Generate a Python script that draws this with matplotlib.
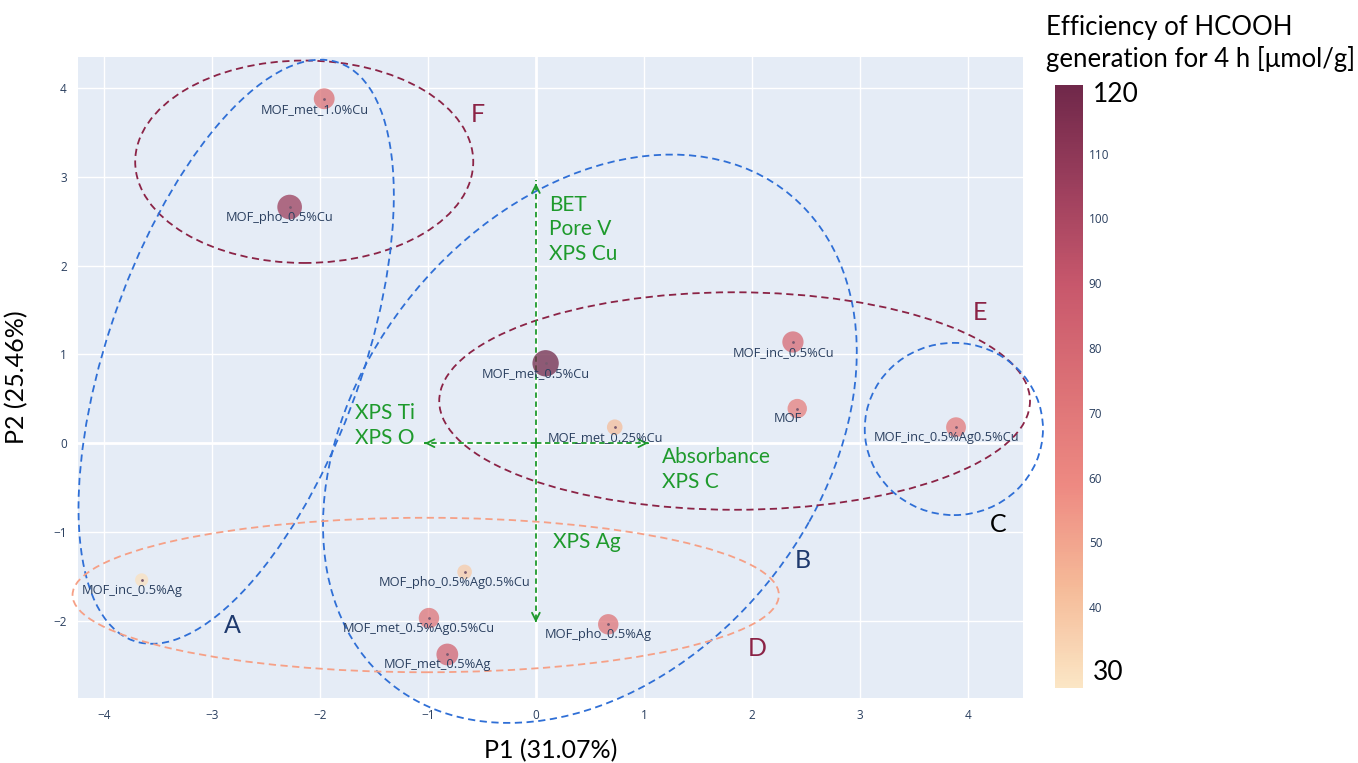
import matplotlib
matplotlib.use("Agg")
import matplotlib.pyplot as plt
from matplotlib.colors import LinearSegmentedColormap, Normalize
from matplotlib.patches import Ellipse

# samples, PCA scores and HCOOH efficiency
samples = ["MOF_met_1.0%Cu", "MOF_pho_0.5%Cu", "MOF_met_0.5%Cu", "MOF_inc_0.5%Cu",
           "MOF", "MOF_met_0.25%Cu", "MOF_inc_0.5%Ag0.5%Cu", "MOF_inc_0.5%Ag",
           "MOF_pho_0.5%Ag0.5%Cu", "MOF_met_0.5%Ag0.5%Cu", "MOF_met_0.5%Ag",
           "MOF_pho_0.5%Ag"]
p1 = [-1.96, -2.28, 0.09, 2.38, 2.42, 0.73, 3.89, -3.65, -0.66, -0.99, -0.82, 0.67]
p2 = [3.88, 2.66, 0.90, 1.14, 0.39, 0.18, 0.18, -1.54, -1.45, -1.97, -2.38, -2.04]
efficiency = [75, 105, 120, 78, 65, 42, 68, 30, 37, 72, 82, 72]

# group ellipses: label, centre, width, height, angle, line colour, label pos, label colour
groups = [
    ("F", (-2.145, 3.17), 3.13, 2.28, 0, "#8b2346", (-0.54, 3.70), "#8b2346"),
    ("A", (-2.775, 1.03), 6.79, 2.39, 74.7, "#2f6fd6", (-2.81, -2.05), "#1f3a6e"),
    ("B", (0.50, 0.05), 6.74, 4.47, 65.3, "#2f6fd6", (2.47, -1.32), "#1f3a6e"),
    ("E", (1.84, 0.475), 5.47, 2.45, 0, "#8b2346", (4.11, 1.47), "#8b2346"),
    ("C", (3.87, 0.16), 1.65, 1.94, 0, "#2f6fd6", (4.28, -0.92), "black"),
    ("D", (-1.02, -1.71), 6.54, 1.74, 0, "#f6a086", (2.05, -2.31), "#8b2346"),
]

# loading directions
arrow_tips = [(0, 2.96), (0, -2.02), (-1.03, 0), (1.04, 0)]
loadings = [("BET\nPore V\nXPS Cu", (0.12, 2.80), "left", "top"),
            ("XPS Ti\nXPS O", (-1.12, 0.45), "right", "top"),
            ("Absorbance\nXPS C", (1.17, -0.04), "left", "top"),
            ("XPS Ag", (0.16, -1.0), "left", "top")]

burgyl = LinearSegmentedColormap.from_list("burgyl", [
    (251/255, 230/255, 197/255), (245/255, 186/255, 152/255),
    (238/255, 138/255, 130/255), (220/255, 113/255, 118/255),
    (200/255, 88/255, 108/255), (156/255, 63/255, 93/255),
    (112/255, 40/255, 74/255)])
norm = Normalize(vmin=27.5, vmax=120.5)

txt_col = "#2a3f5f"
green = "#1e9a2c"
big_font = ["Lato", "DejaVu Sans"]

fig = plt.figure(figsize=(13.58, 7.63), dpi=100)
ax = fig.add_axes([0.0574, 0.0852, 0.6959, 0.8401])
ax.set_facecolor("#E5ECF6")
for s in ax.spines.values():
    s.set_visible(False)
ax.set_xlim(-4.24, 4.51)
ax.set_ylim(-2.87, 4.35)
ax.set_xticks(range(-4, 5))
ax.set_yticks(range(-2, 5))
ax.grid(color="white", linewidth=1)
ax.set_axisbelow(True)
ax.axhline(0, color="white", linewidth=2, zorder=0.5)
ax.axvline(0, color="white", linewidth=2, zorder=0.5)
ax.tick_params(length=0, labelsize=8.5, labelcolor=txt_col, pad=8)
for lab in ax.get_xticklabels() + ax.get_yticklabels():
    lab.set_family("Open Sans")

sizes = [v * 3.0 for v in efficiency]
sc = ax.scatter(p1, p2, s=sizes, c=efficiency, cmap=burgyl, norm=norm,
                alpha=0.75, edgecolors="none", zorder=3)
ax.scatter(p1, p2, s=1, c="#7a5a70", zorder=3.5)
for name, x, y in zip(samples, p1, p2):
    ax.annotate(name, (x, y), xytext=(-7, -7.5), textcoords="offset points",
                ha="center", va="center", fontsize=9.3, color=txt_col,
                family="Open Sans", zorder=4)

for lbl, c, w, h, ang, col, lpos, lcol in groups:
    ax.add_patch(Ellipse(c, w, h, angle=ang, fill=False, edgecolor=col,
                         linewidth=1.3, linestyle=(0, (4, 2.5)), clip_on=False, zorder=2))
    ax.text(lpos[0], lpos[1], lbl, color=lcol, fontsize=18, family=big_font,
            ha="center", va="center")

for tx, ty in arrow_tips:
    ax.plot([0, tx], [0, ty], color=green, linewidth=1.3, linestyle=(0, (3, 2)), zorder=2.5)
    ax.annotate("", xy=(tx, ty), xytext=(tx * 0.97, ty * 0.97),
                arrowprops=dict(arrowstyle="->", color=green, lw=1.3,
                                mutation_scale=14), zorder=2.5)
for text, pos, ha, va in loadings:
    ax.text(pos[0], pos[1], text, color=green, fontsize=15, family=big_font,
            ha=ha, va=va, linespacing=1.3)

ax.set_xlabel("P1 (31.07%)", fontsize=18, family=big_font, labelpad=12)
ax.set_ylabel("P2 (25.46%)", fontsize=18, family=big_font, labelpad=18)

cax = fig.add_axes([0.777, 0.098, 0.0206, 0.79])
cb = fig.colorbar(sc, cax=cax)
cb.solids.set_alpha(1.0)
cb.outline.set_visible(False)
cb.set_ticks([40, 50, 60, 70, 80, 90, 100, 110])
cax.tick_params(length=0, labelsize=8.5, labelcolor=txt_col, pad=4)
for lab in cax.get_yticklabels():
    lab.set_family("Open Sans")
fig.text(0.805, 0.876, "120", fontsize=19, family=big_font, va="center")
fig.text(0.805, 0.118, "30", fontsize=19, family=big_font, va="center")
fig.text(0.770, 0.943, "Efficiency of HCOOH\ngeneration for 4 h [μmol/g]",
         fontsize=18.5, family=big_font, va="center", linespacing=1.25)

fig.savefig("out.png", dpi=100)
